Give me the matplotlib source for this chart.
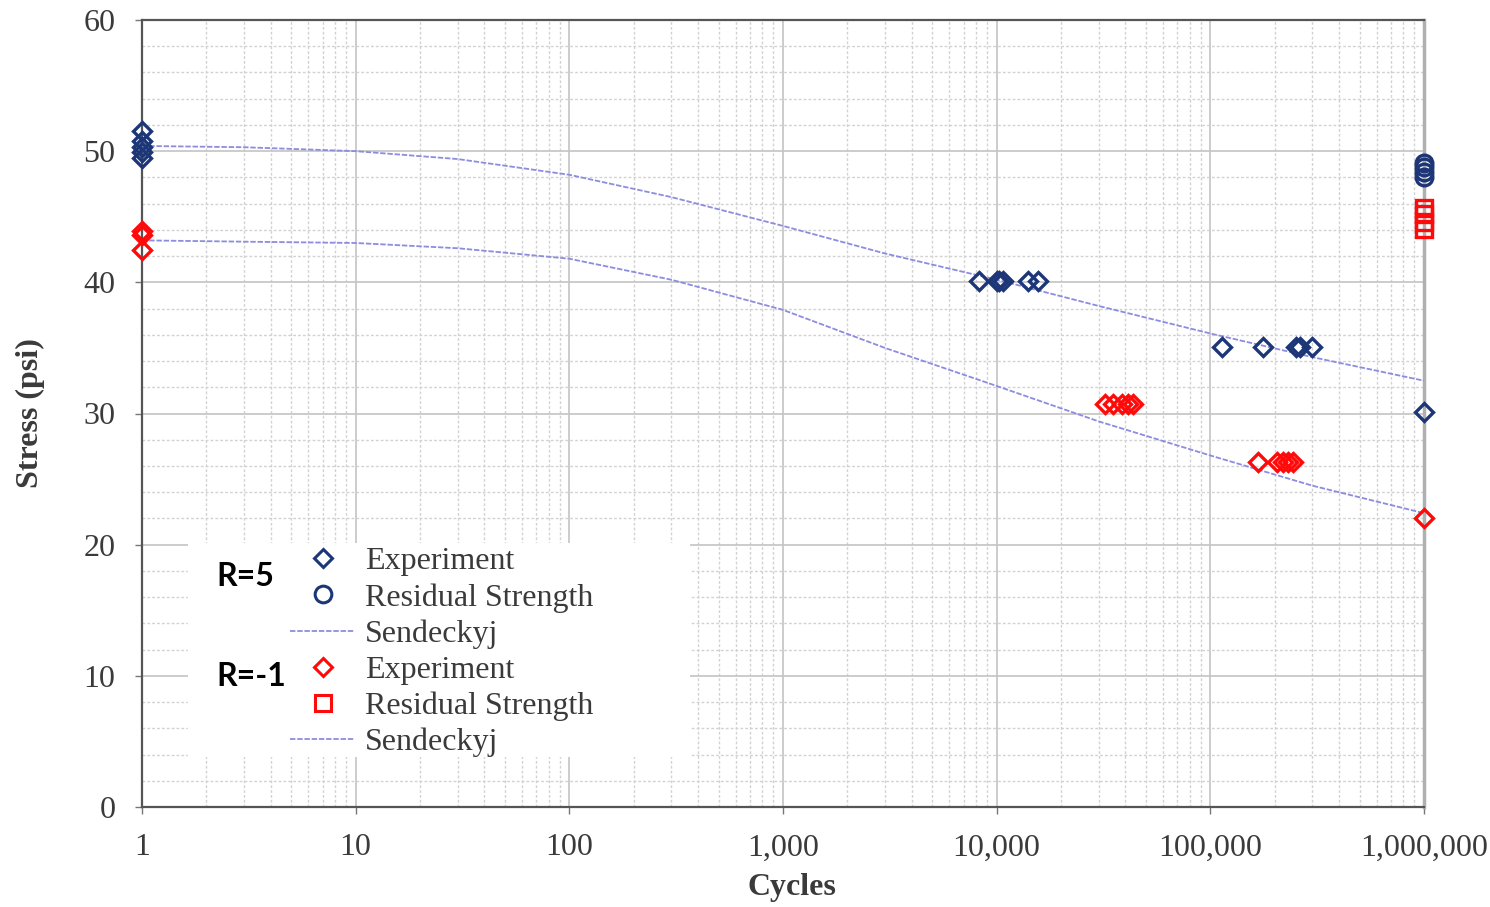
import matplotlib
matplotlib.use("Agg")
import matplotlib.pyplot as plt
from matplotlib.lines import Line2D
from matplotlib.patches import Rectangle
from matplotlib.ticker import FixedLocator, NullFormatter, MultipleLocator
import numpy as np

# ---------------- data ----------------
# R = 5
r5_exp_x = [1, 1, 1, 1, 1,
            8300, 10000, 10300, 10700, 14000, 15600,
            114000, 176000, 252000, 262000, 299000,
            1000000]
r5_exp_y = [51.5, 50.8, 50.3, 49.9, 49.5,
            40.1, 40.1, 40.1, 40.1, 40.1, 40.1,
            35.1, 35.1, 35.1, 35.1, 35.1,
            30.1]
r5_res_x = [1000000, 1000000, 1000000, 1000000]
r5_res_y = [49.1, 48.8, 48.4, 48.0]
r5_fit_x = [1, 3, 10, 30, 100, 300, 1000, 3000, 10000, 30000, 100000, 300000, 1000000]
r5_fit_y = [50.4, 50.3, 50.0, 49.4, 48.2, 46.5, 44.3, 42.2, 40.2, 38.2, 36.1, 34.3, 32.5]

# R = -1
rm1_exp_x = [1, 1, 1,
             32000, 35000, 38600, 41000, 43500,
             167000, 205000, 219000, 231000, 244000,
             1000000]
rm1_exp_y = [43.9, 43.6, 42.5,
             30.7, 30.7, 30.7, 30.7, 30.7,
             26.3, 26.3, 26.3, 26.3, 26.3,
             22.0]
rm1_res_x = [1000000, 1000000, 1000000, 1000000]
rm1_res_y = [45.7, 45.2, 44.6, 44.1]
rm1_fit_x = [1, 3, 10, 30, 100, 300, 1000, 3000, 10000, 30000, 100000, 300000, 1000000]
rm1_fit_y = [43.2, 43.1, 43.0, 42.6, 41.8, 40.2, 37.9, 35.0, 32.1, 29.4, 26.8, 24.5, 22.4]

x_ticks = [1, 10, 100, 1000, 10000, 100000, 1000000]
x_tick_labels = ["1", "10", "100", "1,000", "10,000", "100,000", "1,000,000"]
y_ticks = [0, 10, 20, 30, 40, 50, 60]

legend_labels = ["Experiment", "Residual Strength", "Sendeckyj",
                 "Experiment", "Residual Strength", "Sendeckyj"]

# ---------------- style ----------------
BLUE = "#1c3677"
RED = "#ff0a0a"
FIT = "#8c8ce0"
TXT = "#3a3a3a"
SERIF = ["Liberation Serif", "DejaVu Serif"]
FS = 23

fig = plt.figure(figsize=(14.9, 9.07), dpi=100)
ax = fig.add_axes([142 / 1490, 1 - 807 / 907, (1424 - 142) / 1490, (807 - 20) / 907])

ax.set_xscale("log")
ax.set_xlim(1, 1000000)
ax.set_ylim(0, 60)

# grid
ax.set_axisbelow(True)
ax.xaxis.set_major_locator(FixedLocator(x_ticks))
ax.xaxis.set_minor_locator(FixedLocator(
    [m * 10 ** e for e in range(0, 6) for m in range(2, 10)]))
ax.xaxis.set_minor_formatter(NullFormatter())
ax.yaxis.set_major_locator(FixedLocator(y_ticks))
ax.yaxis.set_minor_locator(MultipleLocator(2))
ax.grid(which="major", axis="both", color="#c4c4c4", lw=1.2, ls="-")
ax.grid(which="minor", axis="both", color="#d2d2d2", lw=1.0, ls=(0, (2, 1.5)))

# fits
ax.plot(r5_fit_x, r5_fit_y, color=FIT, lw=1.3, ls=(0, (3, 1)), zorder=3)
ax.plot(rm1_fit_x, rm1_fit_y, color=FIT, lw=1.3, ls=(0, (3, 1)), zorder=3)

# markers
ax.plot(r5_exp_x, r5_exp_y, ls="none", marker="D", ms=9, mfc="none",
        mec=BLUE, mew=2.4, zorder=5, clip_on=False)
ax.plot(r5_res_x, r5_res_y, ls="none", marker="o", ms=12, mfc="none",
        mec=BLUE, mew=2.4, zorder=5, clip_on=False)
ax.plot(rm1_exp_x, rm1_exp_y, ls="none", marker="D", ms=9, mfc="none",
        mec=RED, mew=2.4, zorder=5, clip_on=False)
ax.plot(rm1_res_x, rm1_res_y, ls="none", marker="s", ms=11, mfc="none",
        mec=RED, mew=2.4, zorder=5, clip_on=False)

# spines
for s in ["left", "bottom", "top"]:
    ax.spines[s].set_color("#555555")
    ax.spines[s].set_linewidth(1.6)
ax.spines["right"].set_color("#b0b0b0")
ax.spines["right"].set_linewidth(2.5)

# ticks
ax.set_xticklabels(x_tick_labels)
ax.tick_params(which="major", length=5, width=1, color="#777777",
               labelsize=FS, labelcolor=TXT)
ax.tick_params(which="minor", length=0)
for lab in ax.get_xticklabels() + ax.get_yticklabels():
    lab.set_fontfamily(SERIF)
ax.tick_params(axis="x", pad=14)
ax.tick_params(axis="y", pad=14)

ax.set_xlabel("Cycles", fontsize=FS, fontweight="bold", family=SERIF,
              color=TXT, labelpad=10)
ax.xaxis.set_label_coords((792 - 142) / 1282, -(888 - 807) / 787)
ax.xaxis.label.set_va("center")
ax.set_ylabel("Stress (psi)", fontsize=FS, fontweight="bold", family=SERIF,
              color=TXT, labelpad=28)

# legend background
ax.add_patch(Rectangle((0.036, 0.0635), 0.3915, 0.2715, transform=ax.transAxes,
                       facecolor="white", edgecolor="none", zorder=4))

handles = [
    Line2D([], [], ls="none", marker="D", ms=9, mfc="none", mec=BLUE, mew=2.2),
    Line2D([], [], ls="none", marker="o", ms=12, mfc="none", mec=BLUE, mew=2.2),
    Line2D([], [], color=FIT, lw=1.3, ls=(0, (3, 1))),
    Line2D([], [], ls="none", marker="D", ms=9, mfc="none", mec=RED, mew=2.2),
    Line2D([], [], ls="none", marker="s", ms=11, mfc="none", mec=RED, mew=2.2),
    Line2D([], [], color=FIT, lw=1.3, ls=(0, (3, 1))),
]
leg = ax.legend(handles, legend_labels, loc="upper left",
                bbox_to_anchor=((290 - 142) / 1282, (807 - 547) / 787),
                frameon=False, prop={"family": SERIF, "size": FS},
                labelspacing=0.21, handlelength=2.05, handletextpad=0.3,
                borderpad=0, borderaxespad=0)
for t in leg.get_texts():
    t.set_color(TXT)
leg.set_zorder(6)

ax.text((216 - 142) / 1282, (807 - 576) / 787, "R=5", transform=ax.transAxes,
        fontsize=23, fontweight="bold", family=["Lato", "DejaVu Sans"],
        va="center", ha="left", zorder=7)
ax.text((216 - 142) / 1282, (807 - 676) / 787, "R=-1", transform=ax.transAxes,
        fontsize=23, fontweight="bold", family=["Lato", "DejaVu Sans"],
        va="center", ha="left", zorder=7)

fig.savefig("out.png", dpi=100)
